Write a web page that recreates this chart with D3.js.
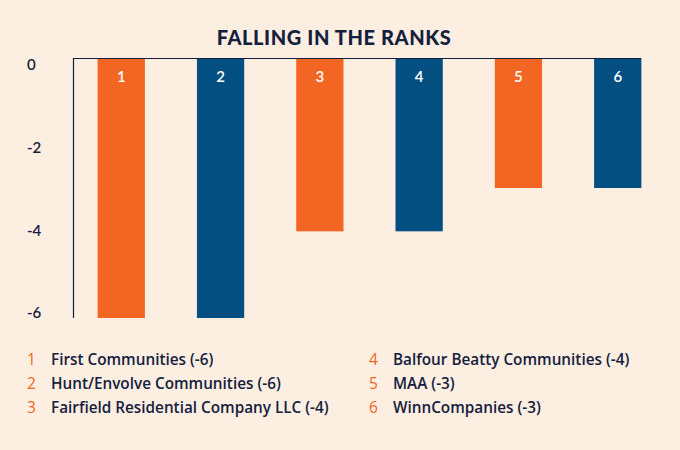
<!DOCTYPE html>
<html><head><meta charset="utf-8">
<script src="https://cdn.jsdelivr.net/npm/d3@7"></script>
<style>
html,body{margin:0;padding:0;background:#FDEEE2;}
svg{display:block;font-family:Lato, "Open Sans", sans-serif;}
</style></head>
<body>
<svg id="c" width="680" height="450"></svg>
<script>
const ranks = ["1","2","3","4","5","6"];
const names = ["First Communities","Hunt/Envolve Communities","Fairfield Residential Company LLC","Balfour Beatty Communities","MAA","WinnCompanies"];
const values = [-6,-6,-4,-4,-3,-3];
const barColors = ["#F26522","#044F82","#F26522","#044F82","#F26522","#044F82"];
const yTicks = [0,-2,-4,-6];
const title = "FALLING IN THE RANKS";

const navy = "#14213D";
const orange = "#F26522";
const svg = d3.select("#c");
svg.append("rect").attr("width",680).attr("height",450).attr("fill","#FDEEE2");

svg.append("text").attr("x",334).attr("y",45).attr("text-anchor","middle")
  .attr("fill",navy).attr("font-size",20).attr("font-weight",900).attr("letter-spacing",0.6)
  .text(title);

const x = d3.scaleBand().domain(ranks).range([73.5,665.5]).paddingInner(0.524).paddingOuter(0.243);
const y = d3.scaleLinear().domain([0,-6]).range([58,318]);
const yLab = d3.scaleLinear().domain([0,-6]).range([65,313]);

svg.selectAll("rect.bar").data(values).join("rect").attr("class","bar")
  .attr("x",(d,i)=>x(ranks[i])).attr("width",x.bandwidth())
  .attr("y",y(0)).attr("height",d=>y(d)-y(0))
  .attr("fill",(d,i)=>barColors[i]);

svg.selectAll("text.bl").data(ranks).join("text").attr("class","bl")
  .attr("x",d=>x(d)+x.bandwidth()/2).attr("y",82).attr("text-anchor","middle")
  .attr("fill","#fff").attr("font-size",15).attr("font-weight",600).text(d=>d);

// axis lines
svg.append("line").attr("x1",73.5).attr("x2",641).attr("y1",58.5).attr("y2",58.5)
  .attr("stroke",navy).attr("stroke-width",1.2);
svg.append("line").attr("x1",73.5).attr("x2",73.5).attr("y1",58).attr("y2",318)
  .attr("stroke",navy).attr("stroke-width",1.2);

svg.selectAll("text.yt").data(yTicks).join("text").attr("class","yt")
  .attr("x",27).attr("y",d=>yLab(d)).attr("dy","0.35em")
  .attr("fill",navy).attr("font-size",15).attr("font-weight",600).text(d=>d===0?"0":"-"+Math.abs(d));

// legend
const rowY = [365,388.5,412.5];
names.forEach((n,i)=>{
  const col = Math.floor(i/3), row = i%3;
  const nx = col===0?27:369, tx = col===0?51:393;
  svg.append("text").attr("x",nx).attr("y",rowY[row])
    .attr("fill",orange).attr("font-size",15.5).attr("font-weight",400)
    .style("font-family","'Open Sans', sans-serif").text(ranks[i]);
  svg.append("text").attr("x",tx).attr("y",rowY[row])
    .attr("fill",navy).attr("font-size",15.3).attr("font-weight",600)
    .style("font-family","'Open Sans', sans-serif").text(n+" ("+values[i]+")");
});
</script>
</body></html>
